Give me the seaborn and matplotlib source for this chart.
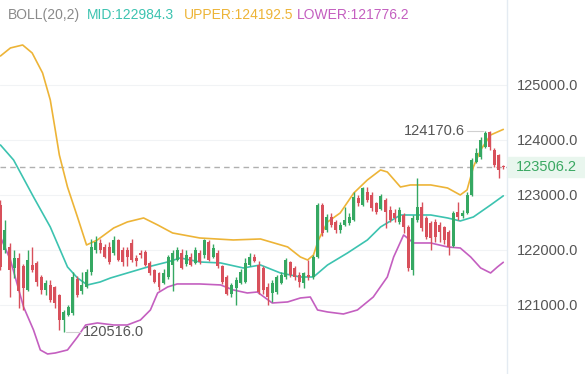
import numpy as np
import pandas as pd
import matplotlib
matplotlib.use("Agg")
import matplotlib.pyplot as plt
import seaborn as sns

# candles, one per period
open_ = [122820, 122000, 122050, 121670, 121850, 121700, 121270, 121730, 121760, 121500,
         121270, 121360, 121320, 121180, 120730, 120820, 120860, 121480, 121250, 121330,
         121600, 122000, 122130, 122050, 122060, 121950, 122180, 122000, 122000, 122130,
         121850, 121950, 121960, 121770, 121640, 121580, 121400, 121500, 121720, 121820,
         121940, 121750, 121880, 121760, 121940, 121900, 122150, 121870, 121950, 121700,
         121500, 121200, 121300, 121400, 121420, 121730, 121880, 121730, 121680, 121330,
         121220, 121240, 121400, 121500, 121780, 121670, 121550, 121400, 121550, 121510,
         121870, 122820, 122360, 122600, 122500, 122360, 122450, 122490, 122550, 122950,
         122820, 123050, 123000, 122850, 122750, 122910, 122730, 122670, 122510, 122640,
         122420, 121640, 122550, 122780, 122580, 122490, 122500, 122450, 122420, 122330,
         122080, 122690, 122620, 122670, 123000, 123600, 123690, 123870, 124150, 123820,
         123720, 123520]
high = [122900, 122545, 122130, 122000, 121950, 121750, 122000, 122050, 121800, 121550,
        121450, 121450, 121350, 121200, 120900, 121000, 121600, 121520, 121600, 121650,
        122200, 122250, 122200, 122100, 122150, 122250, 122200, 122050, 122050, 122200,
        121900, 122000, 122000, 121800, 121650, 121600, 121650, 121900, 122000, 122050,
        122020, 122000, 121950, 122050, 122000, 122200, 122180, 122100, 122000, 121720,
        121550, 121400, 121500, 121650, 121850, 121950, 121920, 121800, 121700, 121400,
        121450, 121550, 121600, 121850, 121800, 121700, 121600, 121600, 121820, 121900,
        122850, 122850, 122650, 122680, 122550, 122500, 122780, 122680, 123050, 123000,
        123150, 123150, 123050, 122880, 123020, 122950, 122800, 122750, 122780, 122680,
        122450, 122640, 123310, 122880, 122620, 122520, 122560, 122500, 122440, 122360,
        122700, 122870, 122720, 123050, 123680, 123850, 124050, 124170.6, 124160, 123850,
        123750, 123540]
low = [121640, 121945, 121150, 121490, 120950, 120900, 121250, 121600, 121350, 121200,
       121180, 121050, 120950, 120550, 120516, 120800, 120820, 121150, 121200, 121300,
       121550, 121950, 121950, 121850, 121750, 121900, 121800, 121700, 121700, 121780,
       121700, 121850, 121700, 121550, 121400, 121270, 121380, 121480, 121250, 121800,
       121650, 121700, 121700, 121740, 121750, 121850, 121800, 121850, 121680, 121380,
       121180, 121150, 121000, 121380, 121400, 121700, 121780, 121200, 121200, 121000,
       121050, 121200, 121380, 121480, 121500, 121450, 121330, 121310, 121450, 121480,
       121850, 122250, 122330, 122420, 122300, 122300, 122430, 122460, 122520, 122800,
       122800, 122880, 122700, 122650, 122720, 122400, 122500, 122500, 122480, 122300,
       121620, 121550, 122500, 122350, 122200, 122000, 122150, 122150, 122100, 121900,
       122050, 122550, 122580, 122650, 122980, 123580, 123650, 123850, 123820, 123500,
       123300, 123480]
close = [121690, 122360, 121640, 121850, 121250, 121300, 121820, 121640, 121420, 121270,
         121400, 121090, 121030, 120730, 120870, 120960, 121510, 121180, 121360, 121600,
         122050, 122150, 122000, 121880, 121780, 122180, 121820, 121780, 121880, 121820,
         121800, 121900, 121730, 121580, 121420, 121320, 121580, 121870, 121940, 122000,
         121680, 121900, 121720, 122000, 121780, 122180, 121820, 122030, 121700, 121420,
         121200, 121370, 121460, 121600, 121770, 121880, 121800, 121240, 121270, 121150,
         121400, 121510, 121550, 121820, 121550, 121510, 121420, 121580, 121500, 121870,
         122820, 122300, 122600, 122450, 122360, 122450, 122550, 122600, 122960, 122850,
         123130, 122910, 122760, 122690, 122980, 122690, 122550, 122580, 122730, 122420,
         121670, 122580, 122780, 122400, 122240, 122220, 122240, 122320, 122180, 122060,
         122670, 122600, 122680, 123000, 123640, 123770, 124000, 124130, 123870, 123550,
         123450, 123506.2]

# bollinger bands, read at a set of candle positions
upper_idx = [0, 2.2, 4.9, 7, 9.3, 11, 12.1, 13, 14.8, 17, 19, 21.4, 25, 28, 31.6, 34.7, 38,
             44, 51.4, 57.4, 63.4, 66.2, 67.8, 69.1, 70.2, 72.2, 75, 78, 81, 83.9, 85.4,
             88.3, 90.5, 95, 98.7, 101.5, 103, 104.4, 106, 108.2, 111]
upper_val = [125527, 125673, 125727, 125582, 125218, 124727, 124182, 123727, 123145, 122600,
             122091, 122182, 122400, 122509, 122582, 122455, 122309, 122218, 122182, 122200,
             122055, 121873, 121818, 121909, 122182, 122509, 122673, 123036, 123273, 123455,
             123418, 123145, 123182, 123182, 123127, 123000, 123091, 123509, 123818, 124091,
             124192.5]
mid_idx = [0, 2.9, 7.3, 11, 14.8, 17, 19.2, 22, 24.3, 32.5, 36.9, 39.7, 44, 48.6, 53.6,
           57.4, 61.8, 66.2, 69.1, 72.2, 76.6, 81, 83.9, 88.3, 95, 98.7, 101.5, 104.4,
           108.2, 111]
mid_val = [123909, 123636, 122964, 122418, 121691, 121491, 121364, 121418, 121491, 121691,
           121782, 121855, 121782, 121764, 121673, 121727, 121582, 121509, 121509, 121727,
           121945, 122182, 122418, 122636, 122636, 122582, 122527, 122600, 122818, 122984.3]
lower_idx = [0, 2.2, 5.1, 7.3, 8.8, 10.4, 12.1, 14.8, 17, 18.8, 21.4, 25, 28, 30.9, 33.1,
             34.7, 36.9, 39, 44, 48.6, 51.4, 54.5, 56.7, 60, 63.4, 66.2, 68.4, 70, 72.2,
             75.7, 78.8, 82.3, 85.4, 86.8, 89, 91.2, 95, 98.7, 101.5, 103.8, 106, 108.2,
             109.7, 111]
lower_val = [122236, 121818, 120964, 120545, 120182, 120109, 120127, 120182, 120418, 120636,
             120673, 120636, 120636, 120727, 120909, 121218, 121327, 121382, 121382, 121364,
             121273, 121218, 121236, 121036, 121055, 121127, 121145, 120909, 120873, 120836,
             120909, 121145, 121509, 121873, 122273, 122127, 122127, 122055, 122036, 121873,
             121673, 121582, 121691, 121776.2]

price_ticks = [121000, 122000, 123000, 124000, 125000]
last_price = 123506.2
hi_price, hi_pos = 124170.6, 107
lo_price, lo_pos = 120516.0, 14

up_col = "#35a862"
down_col = "#d8505b"
mid_col = "#3cc3b0"
upper_col = "#edb437"
lower_col = "#c45fc0"

df = pd.DataFrame({"o": open_, "h": high, "l": low, "c": close})
df["i"] = np.arange(len(df))
df["col"] = np.where(df.c >= df.o, up_col, down_col)

sns.set_theme(style="white")
plt.rcParams['font.family'] = ['Liberation Sans', 'DejaVu Sans']

fig = plt.figure(figsize=(5.85, 3.74), dpi=100)
ax = fig.add_axes([0, 0, 507 / 585, 1])

# grid
for t in price_ticks:
    ax.axhline(t, color="#f1f3f5", lw=0.8, zorder=0)

# bands
sns.lineplot(x=upper_idx, y=upper_val, ax=ax, color=upper_col, lw=1.2, zorder=2)
sns.lineplot(x=mid_idx, y=mid_val, ax=ax, color=mid_col, lw=1.2, zorder=2)
sns.lineplot(x=lower_idx, y=lower_val, ax=ax, color=lower_col, lw=1.2, zorder=2)

# candles
ax.vlines(df.i, df.l, df.h, colors=df.col, lw=1.0, zorder=3)
body = np.maximum((df.c - df.o).abs(), 18)
ax.bar(df.i, body, bottom=np.minimum(df.o, df.c), width=0.66, color=df.col, lw=0, zorder=3)

# last price line
ax.axhline(last_price, color="#b0b0b0", lw=1.0, ls=(0, (4, 3)), zorder=1)

# max / min marks
ax.plot([hi_pos - 4.0, hi_pos - 0.4], [hi_price, hi_price], color="#d0d0d0", lw=0.8)
ax.text(hi_pos - 4.4, hi_price, f"{hi_price:.1f}", ha="right", va="center", fontsize=10.5, color="#555555")
ax.plot([lo_pos + 0.4, lo_pos + 3.7], [lo_price, lo_price], color="#d0d0d0", lw=0.8)
ax.text(lo_pos + 4.3, lo_price, f"{lo_price:.1f}", ha="left", va="center", fontsize=10.5, color="#555555")

ax.set_xlim(-0.1, 507 / 4.53 - 0.1)
ax.set_ylim(119745, 126545)
ax.yaxis.tick_right()
ax.set_yticks(price_ticks)
ax.set_yticklabels([f"{t:.1f}" for t in price_ticks])
ax.tick_params(axis="y", length=0, pad=7, labelsize=10.5, labelcolor="#555555")
ax.set_xticks([])
ax.set_xlabel("")
ax.set_ylabel("")
for s in ["top", "left", "bottom"]:
    ax.spines[s].set_visible(False)
ax.spines["right"].set_color("#e4ebf2")
ax.spines["right"].set_linewidth(1.0)

# last price tag on the right
ly = ax.transData.transform((0, last_price))[1] / (3.74 * 100)
fig.patches.append(plt.Rectangle((508 / 585, ly - 10 / 374), 77 / 585, 20 / 374,
                                 transform=fig.transFigure, color="#e9f6ee", zorder=0))
fig.text(516 / 585, ly, f"{last_price:.1f}", ha="left", va="center", fontsize=10.5, color="#3aa862")

# header
ty = 1 - 15 / 374
fig.text(8 / 585, ty, "BOLL(20,2)", fontsize=10, color="#8a8a8a", va="center")
fig.text(87 / 585, ty, "MID:122984.3", fontsize=10, color=mid_col, va="center")
fig.text(184 / 585, ty, "UPPER:124192.5", fontsize=10, color=upper_col, va="center")
fig.text(297 / 585, ty, "LOWER:121776.2", fontsize=10, color=lower_col, va="center")

fig.savefig("out.png", dpi=100)
